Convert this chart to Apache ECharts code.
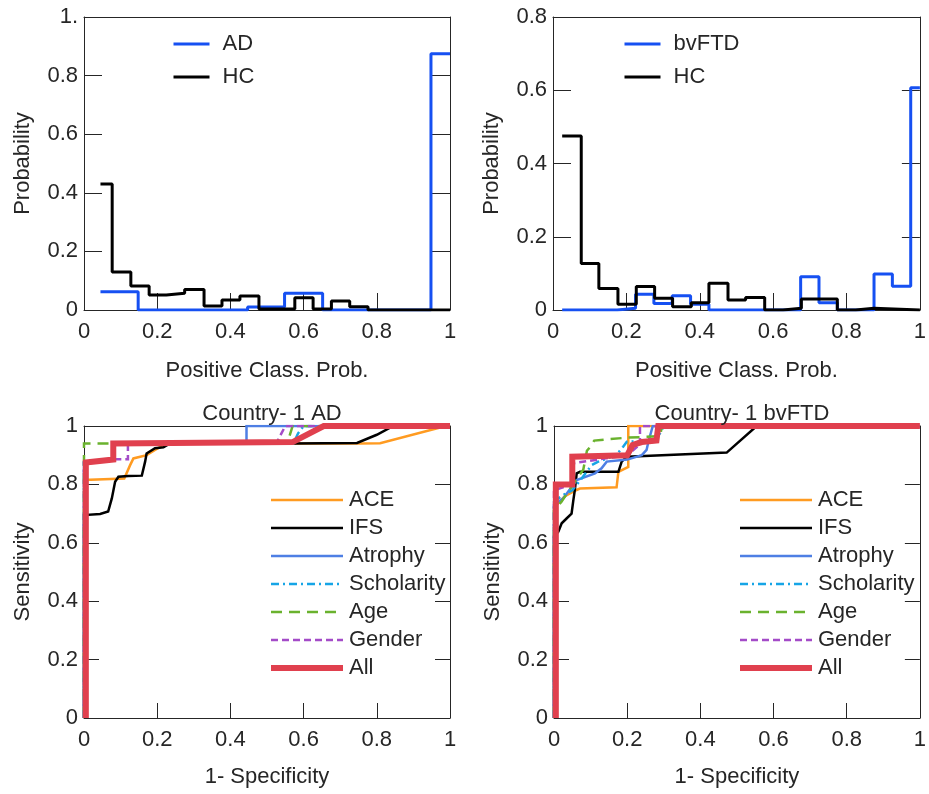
<!DOCTYPE html>
<html>
<head>
<meta charset="utf-8">
<script src="https://cdn.jsdelivr.net/npm/echarts@6/dist/echarts.min.js"></script>
<style>
  html, body { margin: 0; padding: 0; background: #fff; }
  #chart { width: 929px; height: 794px; }
</style>
</head>
<body>
<div id="chart"></div>
<script>
// ---- Histogram of positive-class probability (stairs: value holds from x[i] to x[i+1]) ----
const adHistX   = [0.045, 0.148, 0.447, 0.548, 0.652, 0.948, 1.0];
const adHistY   = [0.0625, 0.0, 0.01, 0.057, 0.0, 0.875, 0.875];
const adHcHistX = [0.045, 0.077, 0.128, 0.178, 0.225, 0.275, 0.328, 0.377, 0.426, 0.478, 0.576, 0.626, 0.676, 0.726, 0.776, 1.0];
const adHcHistY = [0.43, 0.13, 0.082, 0.051, 0.057, 0.07, 0.014, 0.034, 0.048, 0.003, 0.042, 0.003, 0.031, 0.011, 0.0, 0.0];

const ftdHistX   = [0.025, 0.175, 0.225, 0.275, 0.325, 0.375, 0.425, 0.675, 0.725, 0.775, 0.875, 0.925, 0.975, 1.0];
const ftdHistY   = [0.0, 0.005, 0.043, 0.018, 0.039, 0.016, 0.0, 0.091, 0.02, 0.0, 0.098, 0.065, 0.607, 0.607];
const ftdHcHistX = [0.025, 0.077, 0.125, 0.177, 0.227, 0.277, 0.326, 0.377, 0.425, 0.477, 0.525, 0.577, 0.627, 0.677, 0.775, 0.825, 0.875, 1.0];
const ftdHcHistY = [0.475, 0.127, 0.059, 0.016, 0.064, 0.032, 0.009, 0.02, 0.073, 0.027, 0.034, 0.0, 0.005, 0.03, 0.0, 0.005, 0.0, 0.0];

// ---- ROC curves, Country-1 AD (1-specificity, sensitivity) ----
const adAceFpr = [0, 0, 0.11, 0.126, 0.135, 0.171, 0.194, 0.226, 0.75, 0.809, 0.973, 1];
const adAceTpr = [0, 0.815, 0.82, 0.866, 0.889, 0.9, 0.918, 0.94, 0.94, 0.941, 0.995, 1];
const adIfsFpr = [0, 0, 0.044, 0.066, 0.076, 0.085, 0.094, 0.121, 0.158, 0.167, 0.171, 0.194, 0.217, 0.235, 0.57, 0.746, 0.8, 0.845, 1];
const adIfsTpr = [0, 0.695, 0.699, 0.707, 0.752, 0.809, 0.826, 0.829, 0.83, 0.878, 0.906, 0.924, 0.927, 0.94, 0.94, 0.942, 0.97, 1, 1];
const adAtrFpr = [0, 0, 0.08, 0.08, 0.444, 0.444, 1];
const adAtrTpr = [0, 0.875, 0.885, 0.94, 0.94, 1, 1];
const adSchFpr = [0, 0, 0.08, 0.08, 0.572, 0.585, 0.6, 1];
const adSchTpr = [0, 0.875, 0.885, 0.94, 0.94, 0.975, 1, 1];
const adAgeFpr = [0, 0, 0.555, 0.57, 1];
const adAgeTpr = [0, 0.94, 0.94, 1, 1];
const adGenFpr = [0, 0, 0.08, 0.12, 0.12, 0.525, 0.55, 1];
const adGenTpr = [0, 0.875, 0.886, 0.886, 0.94, 0.94, 1, 1];
const adAllFpr = [0.005, 0.005, 0.08, 0.08, 0.57, 0.655, 1];
const adAllTpr = [0, 0.875, 0.885, 0.94, 0.945, 1, 1];

// ---- ROC curves, Country-1 bvFTD ----
const ftdAceFpr = [0, 0, 0.03, 0.06, 0.071, 0.171, 0.176, 0.176, 0.203, 0.203, 1];
const ftdAceTpr = [0, 0.72, 0.76, 0.78, 0.786, 0.79, 0.79, 0.843, 0.86, 1, 1];
const ftdIfsFpr = [0, 0, 0.012, 0.021, 0.035, 0.048, 0.053, 0.057, 0.062, 0.071, 0.176, 0.185, 0.199, 0.472, 0.554, 1];
const ftdIfsTpr = [0, 0.62, 0.638, 0.667, 0.684, 0.70, 0.747, 0.781, 0.838, 0.843, 0.843, 0.878, 0.895, 0.909, 1, 1];
const ftdAtrFpr = [0, 0, 0.025, 0.062, 0.112, 0.13, 0.144, 0.2, 0.24, 0.253, 0.258, 0.27, 1];
const ftdAtrTpr = [0, 0.73, 0.752, 0.815, 0.838, 0.855, 0.878, 0.885, 0.9, 0.918, 0.946, 1, 1];
const ftdSchFpr = [0, 0, 0.02, 0.05, 0.076, 0.103, 0.121, 0.17, 0.189, 0.199, 0.27, 0.29, 0.3, 1];
const ftdSchTpr = [0, 0.74, 0.76, 0.78, 0.821, 0.866, 0.878, 0.9, 0.929, 0.946, 0.95, 0.975, 1, 1];
const ftdAgeFpr = [0, 0, 0.02, 0.039, 0.066, 0.08, 0.09, 0.1, 0.11, 0.15, 0.2, 0.29, 0.295, 1];
const ftdAgeTpr = [0, 0.71, 0.74, 0.775, 0.826, 0.85, 0.915, 0.93, 0.95, 0.955, 0.96, 0.965, 1, 1];
const ftdGenFpr = [0, 0, 0.05, 0.05, 0.2, 0.228, 0.235, 0.235, 1];
const ftdGenTpr = [0, 0.78, 0.8, 0.872, 0.9, 0.93, 0.93, 1, 1];
const ftdAllFpr = [0.005, 0.005, 0.05, 0.05, 0.2, 0.215, 0.24, 0.28, 0.285, 1];
const ftdAllTpr = [0, 0.8, 0.8, 0.895, 0.9, 0.935, 0.945, 0.95, 1, 1];

// ---- labels ----
const rocNames = ['ACE', 'IFS', 'Atrophy', 'Scholarity', 'Age', 'Gender', 'All'];

const FONT = "'Liberation Sans', Arial, Helvetica, sans-serif";
const FS = 22;
const AX = '#262626';
const BLUE = '#1650F2';
const rocStyle = {
  ACE:        { color: '#FF9B21', width: 2.5, type: 'solid' },
  IFS:        { color: '#000000', width: 2.5, type: 'solid' },
  Atrophy:    { color: '#4E7FE4', width: 2.5, type: 'solid' },
  Scholarity: { color: '#16A5E6', width: 2.5, type: [8, 4, 2, 4] },
  Age:        { color: '#6AB22E', width: 2.5, type: [11, 7] },
  Gender:     { color: '#A44BC8', width: 2.5, type: [7, 4] },
  All:        { color: '#E0404E', width: 6,   type: 'solid' }
};

const pairs = (xs, ys) => xs.map((x, i) => [x, ys[i]]);
const fmt = v => (v === 0 ? '0' : v === 1 ? '1' : (+v.toFixed(1)).toString());

const grids = [
  { left: 84,  top: 17,  width: 366, height: 293 },
  { left: 553, top: 17,  width: 367, height: 293 },
  { left: 84,  top: 426, width: 366, height: 292 },
  { left: 554, top: 426, width: 366, height: 292 }
];

function bottomAxis(gi, name, tickLen, gap) {
  return {
    type: 'value', gridIndex: gi, position: 'bottom', min: 0, max: 1, interval: 0.2,
    name: name, nameLocation: 'middle', nameGap: gap,
    nameTextStyle: { fontFamily: FONT, fontSize: FS, color: AX },
    axisLine: { show: true, onZero: false, lineStyle: { color: AX, width: 1 } },
    axisTick: { show: true, inside: true, length: tickLen, lineStyle: { color: AX } },
    axisLabel: { fontFamily: FONT, fontSize: FS, color: AX, margin: 11, formatter: fmt },
    splitLine: { show: false }
  };
}
function topAxis(gi) {
  return {
    type: 'value', gridIndex: gi, position: 'top', min: 0, max: 1, interval: 0.2,
    axisLine: { show: true, onZero: false, lineStyle: { color: AX, width: 1 } },
    axisTick: { show: false }, axisLabel: { show: false }, splitLine: { show: false }
  };
}
function leftAxis(gi, max, name, tickLen, topLabel) {
  return {
    type: 'value', gridIndex: gi, position: 'left', min: 0, max: max, interval: 0.2,
    name: name, nameLocation: 'middle', nameGap: 50,
    nameTextStyle: { fontFamily: FONT, fontSize: FS, color: AX },
    axisLine: { show: true, onZero: false, lineStyle: { color: AX, width: 1 } },
    axisTick: { show: true, inside: true, length: tickLen, lineStyle: { color: AX } },
    axisLabel: { fontFamily: FONT, fontSize: FS, color: AX, margin: 6,
      formatter: v => (v === 1 && topLabel ? topLabel : fmt(v)) },
    splitLine: { show: false }
  };
}
function rightAxis(gi, max, tickLen) {
  return {
    type: 'value', gridIndex: gi, position: 'right', min: 0, max: max, interval: 0.2,
    axisLine: { show: true, onZero: false, lineStyle: { color: AX, width: 1 } },
    axisTick: { show: true, inside: true, length: tickLen, lineStyle: { color: AX } },
    axisLabel: { show: false }, splitLine: { show: false }
  };
}

function stairs(name, xs, ys, gi, color) {
  return {
    type: 'line', name: name, xAxisIndex: gi, yAxisIndex: gi, step: 'end',
    data: pairs(xs, ys), symbol: 'none', showSymbol: false, clip: true,
    lineStyle: { color: color, width: 3 }, itemStyle: { color: color }
  };
}
function roc(name, xs, ys, gi) {
  const s = rocStyle[name];
  return {
    type: 'line', name: name, xAxisIndex: gi, yAxisIndex: gi,
    data: pairs(xs, ys), symbol: 'none', showSymbol: false, clip: true,
    lineStyle: { color: s.color, width: s.width, type: s.type, cap: 'butt', join: 'miter' },
    itemStyle: { color: s.color }
  };
}

// line-only legend keys (the symbol part of the key is made transparent)
function legend(names, left, top, itemWidth, gap, textPad, widths) {
  return {
    orient: 'vertical', left: left, top: top, padding: 0,
    itemWidth: itemWidth, itemHeight: 20, itemGap: gap,
    selectedMode: false,
    itemStyle: { opacity: 0, borderWidth: 0 },
    textStyle: { fontFamily: FONT, fontSize: FS, color: AX, lineHeight: 20, padding: [0, 0, 0, textPad] },
    data: names.map((n, i) => ({ name: n,
      itemStyle: { opacity: 0, borderWidth: 0 },
      lineStyle: { width: widths ? widths[i] : 3 } }))
  };
}

const adRoc = [
  [adAceFpr, adAceTpr], [adIfsFpr, adIfsTpr], [adAtrFpr, adAtrTpr], [adSchFpr, adSchTpr],
  [adAgeFpr, adAgeTpr], [adGenFpr, adGenTpr], [adAllFpr, adAllTpr]
];
const ftdRoc = [
  [ftdAceFpr, ftdAceTpr], [ftdIfsFpr, ftdIfsTpr], [ftdAtrFpr, ftdAtrTpr], [ftdSchFpr, ftdSchTpr],
  [ftdAgeFpr, ftdAgeTpr], [ftdGenFpr, ftdGenTpr], [ftdAllFpr, ftdAllTpr]
];
const rocWidths = rocNames.map(n => rocStyle[n].width);

const option = {
  animation: false,
  backgroundColor: '#ffffff',
  textStyle: { fontFamily: FONT },
  title: [
    { text: 'Country- 1 AD', left: 267, top: 398, textAlign: 'center',
      textStyle: { fontFamily: FONT, fontSize: FS, fontWeight: 'normal', color: AX } },
    { text: 'Country- 1 bvFTD', left: 737, top: 398, textAlign: 'center',
      textStyle: { fontFamily: FONT, fontSize: FS, fontWeight: 'normal', color: AX } }
  ],
  grid: grids,
  xAxis: [
    bottomAxis(0, 'Positive Class. Prob.', 17, 50),
    bottomAxis(1, 'Positive Class. Prob.', 17, 50),
    bottomAxis(2, '1- Specificity', 15, 48),
    bottomAxis(3, '1- Specificity', 15, 48),
    topAxis(0), topAxis(1), topAxis(2), topAxis(3)
  ],
  yAxis: [
    leftAxis(0, 1, 'Probability', 18, '1.'),
    leftAxis(1, 0.8, 'Probability', 18),
    leftAxis(2, 1, 'Sensitivity', 15),
    leftAxis(3, 1, 'Sensitivity', 15),
    rightAxis(0, 1, 18), rightAxis(1, 0.8, 18), rightAxis(2, 1, 15), rightAxis(3, 1, 15)
  ],
  legend: [
    legend(['AD', 'HC'], 172, 33, 36, 11, 8),
    legend(['bvFTD', 'HC'], 623, 33, 36, 11, 8),
    legend(rocNames, 268, 489, 72, 6, 1, rocWidths),
    legend(rocNames, 737, 489, 72, 6, 1, rocWidths)
  ],
  series: [
    stairs('AD', adHistX, adHistY, 0, BLUE),
    stairs('HC', adHcHistX, adHcHistY, 0, '#000000'),
    stairs('bvFTD', ftdHistX, ftdHistY, 1, BLUE),
    stairs('HC', ftdHcHistX, ftdHcHistY, 1, '#000000')
  ]
    .concat(rocNames.map((n, i) => roc(n, adRoc[i][0], adRoc[i][1], 2)))
    .concat(rocNames.map((n, i) => roc(n, ftdRoc[i][0], ftdRoc[i][1], 3)))
};

// top and right axes frame the same grids as the bottom and left axes
option.xAxis.forEach((a, i) => { if (i >= 4) a.gridIndex = i - 4; });
option.yAxis.forEach((a, i) => { if (i >= 4) a.gridIndex = i - 4; });

const chart = echarts.init(document.getElementById('chart'), null, { renderer: 'canvas' });
chart.setOption(option);
</script>
</body>
</html>
